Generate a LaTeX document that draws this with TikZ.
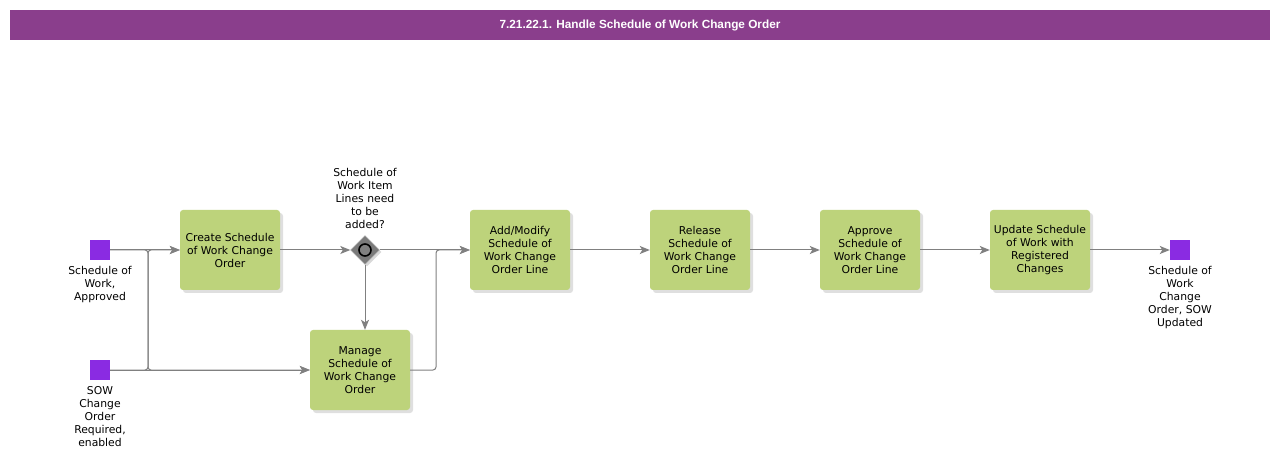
\documentclass[tikz,border=0pt]{standalone}
\usepackage{fontspec}
\setmainfont{DejaVu Sans}
\newfontfamily\titlefont{Liberation Sans}
\usetikzlibrary{arrows.meta, shapes.geometric, shadows}
\definecolor{barPurple}{HTML}{8A3E8C}
\definecolor{eventPurple}{HTML}{8A2BE2}
\definecolor{taskGreen}{HTML}{BDD37B}
\definecolor{flowGrey}{HTML}{808080}

\begin{document}
\begin{tikzpicture}[x=1pt, y=-1pt, font=\fontsize{10.8}{13}\selectfont,
  task/.style={fill=taskGreen, rounded corners=3pt, minimum width=100pt, minimum height=80pt, align=center, inner sep=0pt, drop shadow={shadow xshift=3pt, shadow yshift=-3pt, opacity=0.25}},
  event/.style={fill=eventPurple, minimum size=20pt, inner sep=0pt},
  evlabel/.style={align=center, inner sep=0pt},
  gate/.style={diamond, fill=flowGrey!95!black, draw=flowGrey!60, minimum size=29pt, inner sep=0pt, drop shadow={shadow xshift=2pt, shadow yshift=-2pt, opacity=0.3}},
  flow/.style={draw=flowGrey, line width=1pt, rounded corners=3pt, -{Stealth[length=10pt, width=8pt, inset=2.5pt]}}]
  \useasboundingbox[fill=white] (0,0) rectangle (1280,462);
  % title bar
  \node[fill=barPurple, minimum width=1260pt, minimum height=30pt, inner sep=0pt] (titleBar) at (640,25) {};
  \node[font=\titlefont\bfseries\fontsize{11.8}{13}\selectfont, text=white] (titleText) at (titleBar.center) {7.21.22.1. Handle Schedule of Work Change Order};

  % events
  \node[event] (sowApproved) at (100,250) {};
  \node[evlabel, anchor=north] (sowApprovedLbl) at (100,266) {Schedule of\\Work,\\Approved};
  \node[event] (changeRequired) at (100,370) {};
  \node[evlabel, anchor=north] (changeRequiredLbl) at (100,386) {SOW\\Change\\Order\\Required,\\enabled};
  \node[event] (sowUpdated) at (1180,250) {};
  \node[evlabel, anchor=north] (sowUpdatedLbl) at (1180,266) {Schedule of\\Work\\Change\\Order, SOW\\Updated};

  % tasks
  \node[task] (createOrder) at (230,250) {Create Schedule\\of Work Change\\Order};
  \node[task] (manageOrder) at (360,370) {Manage\\Schedule of\\Work Change\\Order};
  \node[task] (addLine) at (520,250) {Add/Modify\\Schedule of\\Work Change\\Order Line};
  \node[task] (releaseLine) at (700,250) {Release\\Schedule of\\Work Change\\Order Line};
  \node[task] (approveLine) at (870,250) {Approve\\Schedule of\\Work Change\\Order Line};
  \node[task] (updateSow) at (1040,250) {Update Schedule\\of Work with\\Registered\\Changes};

  % gateway
  \node[gate] (needLines) at (365,250) {};
  \draw[line width=1.6pt, fill=flowGrey] (needLines.center) circle (6pt);
  \node[evlabel, anchor=south] (needLinesLbl) at (365,229) {Schedule of\\Work Item\\Lines need\\to be\\added?};

  % flows
  \coordinate (splitIn) at (148,250);
  \coordinate (mergeBend) at (436,250);
  \draw[flow] (sowApproved) -- (createOrder);
  \draw[flow] (sowApproved.east) -- (splitIn) |- (manageOrder.west);
  \draw[flow] (changeRequired) -- (manageOrder);
  \draw[flow] (changeRequired.east) -| (splitIn) -- (createOrder.west);
  \draw[flow] (createOrder) -- (needLines);
  \draw[flow] (needLines) -- (addLine);
  \draw[flow] (needLines.south) -- (needLines.south |- manageOrder.north);
  \draw[flow] (manageOrder.east) -| (mergeBend) -- (addLine.west);
  \draw[flow] (addLine) -- (releaseLine);
  \draw[flow] (releaseLine) -- (approveLine);
  \draw[flow] (approveLine) -- (updateSow);
  \draw[flow] (updateSow) -- (sowUpdated);
\end{tikzpicture}
\end{document}
